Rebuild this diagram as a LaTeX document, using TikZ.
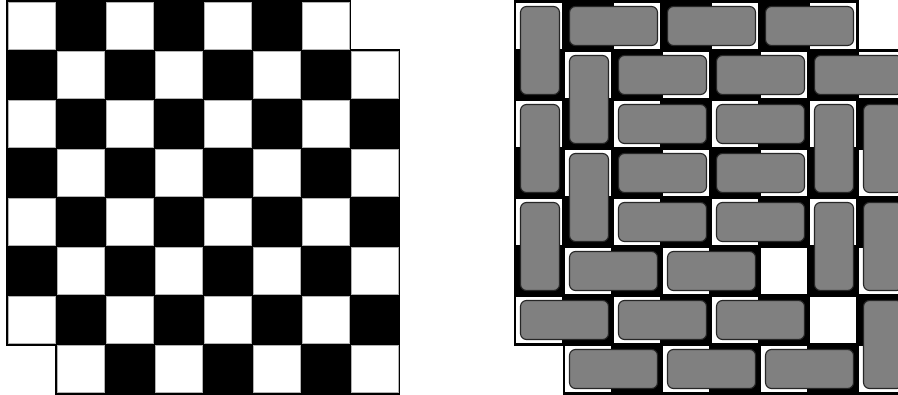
\documentclass[tikz,border=0pt]{standalone}
\begin{document}
\begin{tikzpicture}[x=0.5pt,y=-0.5pt]
\tikzset{
  whitesq/.style={fill=white,draw=gray!60,line width=0.4pt},
  boardfill/.style={fill=black,draw=black,line width=1pt},
  domino/.style={fill=gray,draw=black!85,line width=0.55pt,rounded corners=3pt},
}
\useasboundingbox (0,0) rectangle (898,395);
\def\s{49}
\def\lx{7}
\def\ly{1.5}
\def\rx{514.5}
\def\ry{1.5}
\newcommand{\myhdom}[2]{\draw[domino] ({\rx+#2*\s+6},{\ry+#1*\s+5}) rectangle ({\rx+(#2+2)*\s-4},{\ry+(#1+1)*\s-5});}
\newcommand{\myvdom}[2]{\draw[domino] ({\rx+#2*\s+6},{\ry+#1*\s+5}) rectangle ({\rx+(#2+1)*\s-4},{\ry+(#1+2)*\s-5});}
% ---------- left board ----------
\draw[boardfill] (\lx,\ly) -- ++(7*\s,0) -- ++(0,\s) -- ++(\s,0) -- ++(0,7*\s) -- ++(-7*\s,0) -- ++(0,-\s) -- ++(-\s,0) -- cycle;
\foreach \r in {0,...,7}{
  \foreach \c in {0,...,7}{
    \pgfmathtruncatemacro{\p}{mod(\r+\c,2)}
    \ifnum\p=0
      \draw[whitesq] ({\lx+\c*\s+1},{\ly+\r*\s+1}) rectangle ({\lx+(\c+1)*\s-1},{\ly+(\r+1)*\s-1});
    \fi
  }
}
% ---------- right board ----------
\begin{scope}
\clip (0,0) rectangle (898,395);
\draw[boardfill] (\rx,\ry) -- ++(7*\s,0) -- ++(0,\s) -- ++(\s,0) -- ++(0,7*\s) -- ++(-7*\s,0) -- ++(0,-\s) -- ++(-\s,0) -- cycle;
\foreach \r in {0,...,7}{
  \foreach \c in {0,...,7}{
    \pgfmathtruncatemacro{\p}{mod(\r+\c,2)}
    \ifnum\p=0
      \fill[white] ({\rx+\c*\s+1.5},{\ry+\r*\s+1.5}) rectangle ({\rx+(\c+1)*\s-1.5},{\ry+(\r+1)*\s-1.5});
    \fi
  }
}
% row 0
\myvdom{0}{0}
\myhdom{0}{1}
\myhdom{0}{3}
\myhdom{0}{5}
% row 1
\myvdom{1}{1}
\myhdom{1}{2}
\myhdom{1}{4}
\myhdom{1}{6}
% row 2
\myvdom{2}{0}
\myhdom{2}{2}
\myhdom{2}{4}
\myvdom{2}{6}
\myvdom{2}{7}
% row 3
\myvdom{3}{1}
\myhdom{3}{2}
\myhdom{3}{4}
% row 4
\myvdom{4}{0}
\myhdom{4}{2}
\myhdom{4}{4}
\myvdom{4}{6}
\myvdom{4}{7}
% row 5
\myhdom{5}{1}
\myhdom{5}{3}
% row 6
\myhdom{6}{0}
\myhdom{6}{2}
\myhdom{6}{4}
\myvdom{6}{7}
% row 7
\myhdom{7}{1}
\myhdom{7}{3}
\myhdom{7}{5}
\end{scope}
\end{tikzpicture}
\end{document}
